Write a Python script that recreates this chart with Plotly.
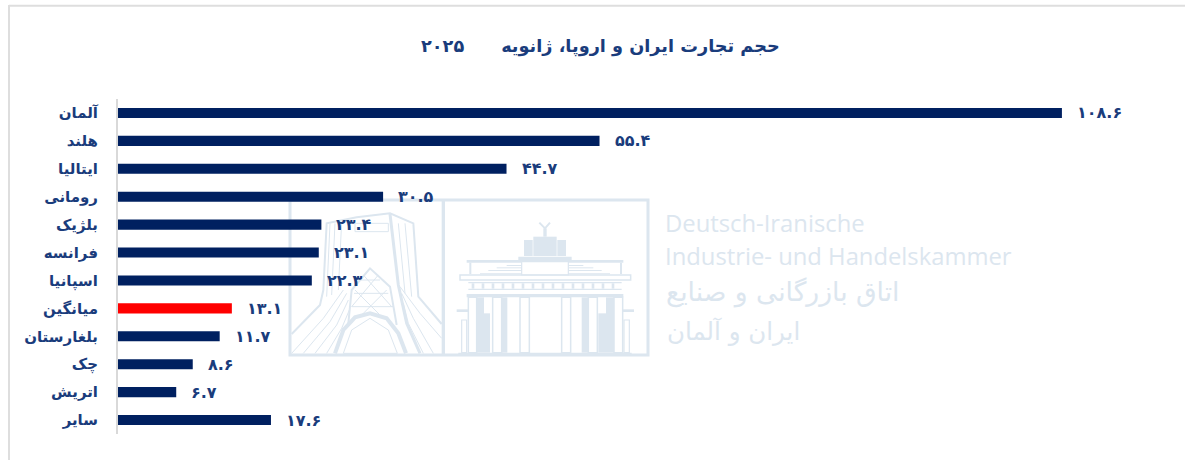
import plotly.graph_objects as go

W, H = 1185, 460
categories = ["آلمان", "هلند", "ایتالیا", "رومانی", "بلژیک", "فرانسه", "اسپانیا",
              "میانگین", "بلغارستان", "چک", "اتریش", "سایر"]
values = [108.6, 55.4, 44.7, 30.5, 23.4, 23.1, 22.3, 13.1, 11.7, 8.6, 6.7, 17.6]
labels = ["۱۰۸.۶", "۵۵.۴", "۴۴.۷", "۳۰.۵", "۲۳.۴", "۲۳.۱", "۲۲.۳",
          "۱۳.۱", "۱۱.۷", "۸.۶", "۶.۷", "۱۷.۶"]
title = "حجم تجارت ایران و اروپا، ژانویه      ۲۰۲۵"
NAVY, RED, TEXT, WM = "#002060", "#ff0000", "#1a3c7c", "#dce6ef"
colors = [RED if c == "میانگین" else NAVY for c in categories]
FONT = "DejaVu Sans"
PL, PT, PW, PH = 118, 99, 1043, 335

fig = go.Figure(go.Bar(y=categories, x=values, orientation="h",
                       marker=dict(color=colors, line_width=0), width=0.36,
                       cliponaxis=False, hoverinfo="skip"))

ann = [dict(x=v, y=c, text=l, xref="x", yref="y", xanchor="left", xshift=13,
            showarrow=False, font=dict(family=FONT, size=16, color=TEXT, weight="bold"))
       for v, c, l in zip(values, categories, labels)]

def fx(x):
    return (x - PL) / PW

def fy(y):
    return (PT + PH - y) / PH

def tx(x, y, text, size, anchor="left"):
    return dict(xref="paper", yref="paper", x=fx(x), y=fy(y), text=text,
                xanchor=anchor, yanchor="middle", showarrow=False,
                font=dict(family=FONT if anchor == "right" else "Open Sans", size=size, color=WM))

ann += [tx(663, 223, "Deutsch-Iranische", 23.8), tx(663, 256, "Industrie- und Handelskammer", 23.8),
        tx(902, 292, "اتاق بازرگانی و صنایع", 26.6, "right"), tx(802, 331, "ایران و آلمان", 24.5, "right")]
ann.append(dict(xref="paper", yref="paper", x=fx(600), y=fy(46), text=title,
                showarrow=False, xanchor="center", yanchor="middle",
                font=dict(family=FONT, size=17.7, color=TEXT, weight="bold")))

# watermark helpers: coordinates measured in a 3x crop anchored at page (280,190)
def zx(x):
    return 280 + x / 3

def zy(y):
    return 190 + y / 3

def rect(x0, y0, x1, y1, fill=True, lw=1.2):
    return dict(type="rect", xref="paper", yref="paper", layer="below",
                x0=fx(zx(x0)), x1=fx(zx(x1)), y0=fy(zy(y0)), y1=fy(zy(y1)),
                line=dict(color=WM, width=0 if fill else lw),
                fillcolor=WM if fill else "rgba(0,0,0,0)")

def path(points, lw=1, fill=False):
    d = "M" + " L".join(f"{fx(zx(x)):.5f},{fy(zy(y)):.5f}" for x, y in points)
    return dict(type="path", xref="paper", yref="paper", layer="below",
                path=d + (" Z" if fill else ""), line=dict(color=WM, width=lw),
                fillcolor=WM if fill else "rgba(0,0,0,0)")

shapes = [rect(30, 30, 1104, 495, fill=False, lw=3), rect(485, 30, 495, 495)]

# tower
shapes += [
    path([(35, 432), (120, 345), (130, 300), (140, 100), (230, 82), (330, 70), (400, 100), (415, 320), (485, 402)], lw=2),
    path([(165, 490), (190, 420), (225, 382), (270, 370), (320, 385), (355, 430), (378, 490)], lw=4),
    path([(190, 490), (215, 420), (270, 385), (325, 420), (352, 490), (190, 490)], lw=1),
    path([(205, 400), (215, 300), (270, 235), (330, 290), (350, 405)], lw=2),
    path([(330, 72), (345, 200), (355, 285), (380, 400), (420, 490)], lw=3),
    path([(225, 100), (325, 100), (325, 125), (225, 125), (225, 100)], lw=1),
]
for pts in [
    [(35, 490), (130, 385), (190, 300)], [(70, 490), (150, 395), (200, 310)],
    [(105, 490), (170, 405), (205, 330)], [(140, 490), (185, 415), (208, 360)],
    [(485, 445), (420, 370), (360, 290)], [(460, 490), (400, 385), (365, 310)],
    [(430, 490), (385, 400), (370, 340)], [(150, 100), (140, 320)], [(165, 100), (155, 315)],
    [(185, 95), (175, 300)], [(355, 100), (375, 310)], [(375, 100), (395, 320)],
    [(240, 270), (300, 270)], [(222, 310), (325, 310)], [(215, 350), (340, 350)],
    [(225, 300), (300, 375)], [(320, 300), (245, 375)], [(250, 255), (335, 350)], [(295, 255), (215, 350)],
]:
    shapes.append(path(pts, lw=1))

# gate: attic, quadriga and cornices
shapes += [
    rect(715, 200, 875, 215), rect(725, 215, 865, 255, fill=False),
    rect(760, 140, 830, 198), rect(732, 150, 758, 198), rect(832, 150, 858, 198),
    rect(790, 115, 800, 140), path([(778, 98), (795, 115), (810, 98)], lw=2),
    rect(560, 210, 725, 218), rect(865, 210, 1030, 218), rect(568, 218, 574, 252), rect(1020, 218, 1026, 252),
    rect(540, 255, 1052, 270, fill=False, lw=1.5), rect(565, 276, 1025, 280),
    rect(565, 296, 1025, 300), rect(560, 312, 1030, 322),
    rect(535, 488, 1055, 495),
]
for x0, y0, x1 in [(600, 250, 725), (625, 240, 725), (650, 232, 725), (680, 225, 725)]:
    shapes.append(rect(x0, y0, x1, y0 + 3))
    shapes.append(rect(1590 - x1, y0, 1590 - x0, y0 + 3))
for x in range(575, 1025, 30):
    shapes.append(rect(x, 280, x + 8, 296))
for x0, x1 in [(565, 590), (638, 665), (720, 748), (845, 872), (925, 952), (1002, 1028)]:
    shapes.append(rect(x0, 322, x1, 488, fill=False, lw=1.5))
for x0, y0, x1 in [(590, 322, 612), (612, 370, 630), (663, 322, 682), (905, 322, 925), (955, 370, 978), (978, 322, 1002)]:
    shapes.append(rect(x0, y0, x1, 488))
shapes += [rect(530, 358, 565, 366), rect(1028, 358, 1062, 366),
           rect(545, 390, 560, 488, fill=False, lw=1.2), rect(1032, 390, 1048, 488, fill=False, lw=1.2)]

# outer frame of the page: top and left edges only
shapes += [dict(type="line", xref="paper", yref="paper", x0=fx(9), x1=fx(W), y0=fy(5.8), y1=fy(5.8),
                line=dict(color="#dedede", width=2)),
           dict(type="line", xref="paper", yref="paper", x0=fx(9), x1=fx(9), y0=fy(5), y1=fy(H),
                line=dict(color="#dedede", width=2))]

fig.update_layout(
    width=W, height=H, autosize=False, showlegend=False,
    margin=dict(l=PL, r=W - PL - PW, t=PT, b=H - PT - PH),
    paper_bgcolor="white", plot_bgcolor="rgba(0,0,0,0)",
    xaxis=dict(range=[0, 120], visible=False, fixedrange=True),
    yaxis=dict(autorange="reversed", type="category", showgrid=False, zeroline=False,
               showline=True, linecolor="#d9d9d9", linewidth=2, ticks="", ticklabelstandoff=15,
               tickfont=dict(family=FONT, size=15, color=TEXT, weight="bold"), fixedrange=True),
    annotations=ann, shapes=shapes,
)
fig.write_html("out.html", config={"displayModeBar": False},
               post_script="document.body.style.margin='0';document.body.style.overflow='hidden';")
